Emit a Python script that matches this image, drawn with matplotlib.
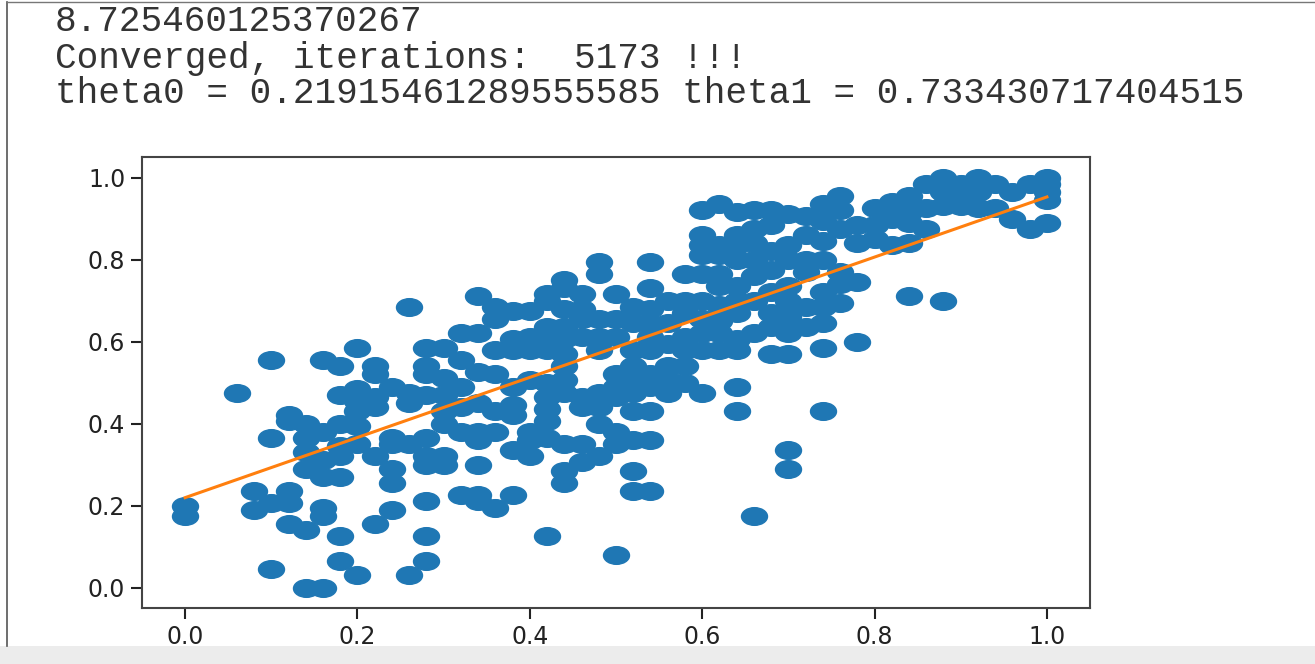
import matplotlib
matplotlib.use("Agg")
import matplotlib.pyplot as plt
import numpy as np
from matplotlib.path import Path
from matplotlib.transforms import Affine2D
from matplotlib.patches import Rectangle

# printed output above the plot
out_lines = [
    "8.725460125370267",
    "Converged, iterations:  5173 !!!",
    "theta0 = 0.21915461289555585 theta1 = 0.733430717404515",
]
theta0 = 0.21915461289555585
theta1 = 0.733430717404515

# scatter points, read column by column (x value -> list of y values)
x_cols = [0.00, 0.06, 0.08, 0.10, 0.12, 0.14, 0.16, 0.18, 0.20, 0.22,
          0.24, 0.26, 0.28, 0.30, 0.32, 0.34, 0.36, 0.38, 0.40, 0.42,
          0.44, 0.46, 0.48, 0.50, 0.52, 0.54, 0.56, 0.58, 0.60, 0.62,
          0.64, 0.66, 0.68, 0.70, 0.72, 0.74, 0.76, 0.78, 0.80, 0.82,
          0.84, 0.86, 0.88, 0.90, 0.92, 0.94, 0.96, 0.98, 1.00]
y_cols = [
    [0.20, 0.175],
    [0.475],
    [0.235, 0.19],
    [0.555, 0.365, 0.205, 0.045],
    [0.42, 0.405, 0.235, 0.205, 0.155],
    [0.40, 0.365, 0.33, 0.29, 0.14, 0.0],
    [0.555, 0.38, 0.31, 0.27, 0.195, 0.175, 0.0],
    [0.54, 0.47, 0.40, 0.345, 0.32, 0.27, 0.125, 0.065],
    [0.585, 0.485, 0.455, 0.43, 0.395, 0.35, 0.03],
    [0.54, 0.52, 0.465, 0.44, 0.32, 0.155],
    [0.49, 0.365, 0.35, 0.29, 0.255, 0.19],
    [0.685, 0.475, 0.45, 0.35, 0.03],
    [0.585, 0.54, 0.52, 0.47, 0.365, 0.32, 0.30, 0.21, 0.125, 0.065],
    [0.585, 0.51, 0.47, 0.43, 0.40, 0.32, 0.30],
    [0.62, 0.555, 0.49, 0.44, 0.38, 0.225],
    [0.71, 0.62, 0.525, 0.45, 0.38, 0.36, 0.30, 0.225, 0.21],
    [0.685, 0.655, 0.58, 0.52, 0.43, 0.38, 0.195],
    [0.675, 0.605, 0.58, 0.49, 0.445, 0.42, 0.335, 0.225],
    [0.675, 0.61, 0.58, 0.505, 0.38, 0.36, 0.32],
    [0.715, 0.70, 0.635, 0.605, 0.58, 0.50, 0.465, 0.435, 0.405, 0.365, 0.125],
    [0.75, 0.73, 0.68, 0.635, 0.605, 0.57, 0.54, 0.505, 0.475, 0.35, 0.285, 0.255],
    [0.715, 0.68, 0.655, 0.61, 0.465, 0.44, 0.35, 0.305],
    [0.795, 0.765, 0.655, 0.61, 0.58, 0.475, 0.44, 0.40, 0.32],
    [0.715, 0.655, 0.61, 0.52, 0.49, 0.465, 0.38, 0.35, 0.08],
    [0.685, 0.645, 0.58, 0.54, 0.505, 0.475, 0.43, 0.36, 0.285, 0.235],
    [0.795, 0.73, 0.68, 0.645, 0.61, 0.58, 0.52, 0.49, 0.43, 0.36, 0.235],
    [0.70, 0.645, 0.595, 0.54, 0.505, 0.475],
    [0.765, 0.70, 0.67, 0.61, 0.58, 0.54, 0.50],
    [0.92, 0.86, 0.835, 0.81, 0.765, 0.70, 0.655, 0.62, 0.58, 0.475],
    [0.935, 0.835, 0.81, 0.765, 0.735, 0.69, 0.65, 0.62, 0.58],
    [0.915, 0.86, 0.835, 0.80, 0.735, 0.70, 0.67, 0.605, 0.58, 0.49, 0.43],
    [0.92, 0.875, 0.84, 0.80, 0.76, 0.70, 0.62, 0.175],
    [0.92, 0.885, 0.82, 0.775, 0.72, 0.67, 0.635, 0.57],
    [0.91, 0.835, 0.80, 0.735, 0.70, 0.66, 0.62, 0.57, 0.335, 0.29],
    [0.905, 0.86, 0.80, 0.77, 0.685, 0.635],
    [0.935, 0.895, 0.845, 0.80, 0.72, 0.685, 0.645, 0.585, 0.43],
    [0.955, 0.92, 0.875, 0.77, 0.74, 0.695],
    [0.885, 0.84, 0.745, 0.60],
    [0.925, 0.885, 0.85],
    [0.94, 0.90, 0.835],
    [0.955, 0.915, 0.89, 0.84, 0.71],
    [0.985, 0.925, 0.875],
    [1.0, 0.965, 0.93, 0.70],
    [0.985, 0.955, 0.93],
    [1.0, 0.965, 0.925],
    [0.985, 0.925],
    [0.965, 0.90],
    [0.985, 0.875],
    [1.0, 0.985, 0.965, 0.945, 0.89],
]

x = np.concatenate([[xc] * len(yc) for xc, yc in zip(x_cols, y_cols)])
y = np.concatenate(y_cols)

W, H = 1315, 664
fig = plt.figure(figsize=(W / 100, H / 100), dpi=100)

# screenshot frame + grey strip at the bottom
fig.add_artist(plt.Line2D([7 / W, 7 / W], [18 / H, 1 - 2 / H], color="#555555", lw=1.2))
fig.add_artist(plt.Line2D([7 / W, 1.0], [1 - 2 / H, 1 - 2 / H], color="#777777", lw=1.0))
fig.add_artist(Rectangle((0, 0), 1, 18 / H, color="#ececec", lw=0))

# text output
baselines = [31, 68, 103]
for line, b in zip(out_lines, baselines):
    fig.text(55 / W, 1 - b / H, line, family="Liberation Mono",
             fontsize=26, color="#333333", va="baseline", ha="left")

ax = fig.add_axes([142 / W, 1 - 608 / H, 948 / W, 451 / H])

# markers look squashed in the screenshot -> ellipse marker
circ = Path.unit_circle()
ellipse = Path(Affine2D().scale(1.0, 0.68).transform(circ.vertices), circ.codes)

ax.scatter(x, y, s=350, marker=ellipse, color="#1f77b4")
xl = np.array([0.0, 1.0])
ax.plot(xl, theta0 + theta1 * xl, color="#ff7f0e", lw=2.2)

ax.set_xticks(np.arange(0, 1.01, 0.2))
ax.set_yticks(np.arange(0, 1.01, 0.2))
ax.tick_params(labelsize=17, length=8, width=1.5, colors="#222222", pad=4)
for s in ax.spines.values():
    s.set_linewidth(1.5)
    s.set_color("#444444")

fig.savefig("out.png", dpi=100)
